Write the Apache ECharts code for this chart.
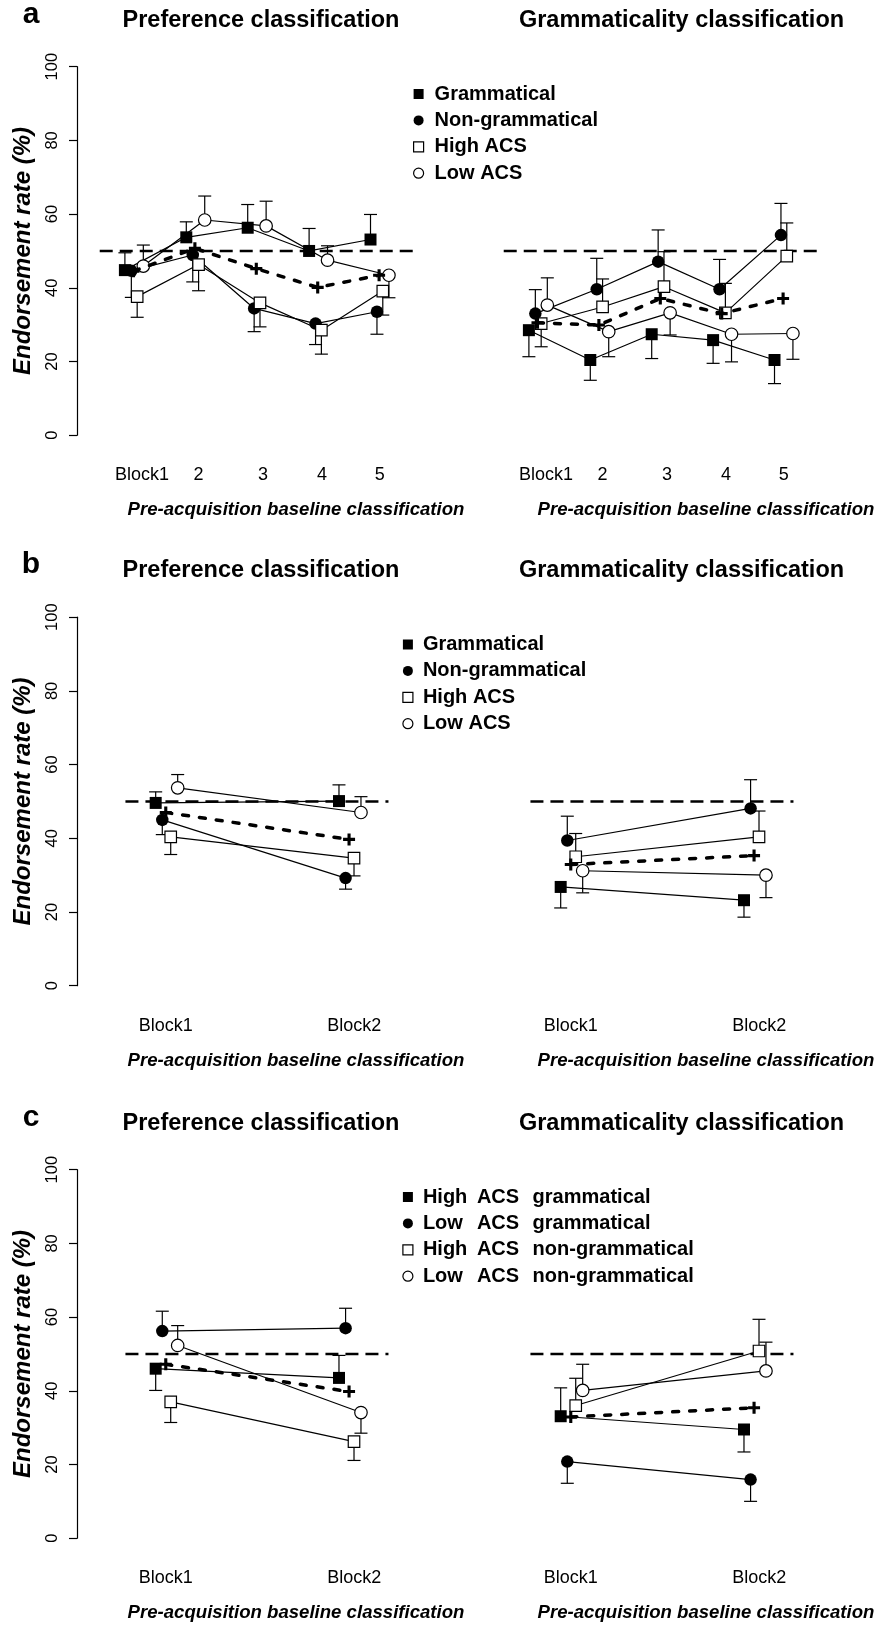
<!DOCTYPE html>
<html>
<head>
<meta charset="utf-8">
<title>Endorsement rate</title>
<script src="https://cdn.jsdelivr.net/npm/echarts@6/dist/echarts.min.js"></script>
<style>
  html, body { margin: 0; padding: 0; background: #fff; }
  #chart { width: 880px; height: 1627px; }
</style>
</head>
<body>
<div id="chart"></div>
<script>
const FONT = "'Liberation Sans', Arial, Helvetica, sans-serif"

// tick labels
const blockLabels5 = ['Block1', '2', '3', '4', '5']
const blockLabels2 = ['Block1', 'Block2']
const chance = 50

const groupsAB = ['Grammatical', 'Non-grammatical', 'High ACS', 'Low ACS']
const groupsC = ['High ACS grammatical', 'Low ACS grammatical', 'High ACS non-grammatical', 'Low ACS non-grammatical']

// panel a, preference: means and end of the (one-sided) error bar
const aPrefGram = [44.8, 53.7, 56.3, 50.0, 53.1]
const aPrefGramEnd = [49.5, 57.9, 62.6, 56.1, 59.9]
const aPrefNon = [44.6, 48.9, 34.4, 30.3, 33.5]
const aPrefNonEnd = [37.4, 41.6, 28.1, 24.6, 27.4]
const aPrefHigh = [37.6, 46.3, 35.9, 28.5, 39.1]
const aPrefHighEnd = [32.0, 39.2, 29.4, 22.0, 32.6]
const aPrefLow = [45.9, 58.4, 56.8, 47.5, 43.4]
const aPrefLowEnd = [51.6, 64.9, 63.5, 51.4, 37.3]
const aPrefMean = [44.5, 50.7, 45.2, 40.1, 43.4]

// panel a, grammaticality
const aGramGram = [28.5, 20.4, 27.4, 25.8, 20.4]
const aGramGramEnd = [21.3, 14.9, 20.8, 19.5, 14.0]
const aGramNon = [33.0, 39.6, 47.1, 39.6, 54.3]
const aGramNonEnd = [39.5, 48.0, 55.7, 47.7, 62.9]
const aGramHigh = [30.3, 34.8, 40.3, 33.2, 48.6]
const aGramHighEnd = [24.0, 42.4, 49.8, 41.2, 57.6]
const aGramLow = [35.3, 28.1, 33.2, 27.4, 27.6]
const aGramLowEnd = [42.7, 21.3, 27.2, 19.9, 20.6]
const aGramMean = [30.5, 29.9, 37.1, 33.0, 37.1]

// panel b
const bPrefGram = [49.6, 50.1]
const bPrefGramEnd = [52.6, 54.5]
const bPrefNon = [45.0, 29.2]
const bPrefNonEnd = [41.0, 26.2]
const bPrefHigh = [40.4, 34.6]
const bPrefHighEnd = [35.6, 29.8]
const bPrefLow = [53.7, 47.0]
const bPrefLowEnd = [57.3, 51.3]
const bPrefMean = [47.0, 39.7]

const bGramGram = [26.8, 23.2]
const bGramGramEnd = [21.1, 18.6]
const bGramNon = [39.4, 48.1]
const bGramNonEnd = [46.0, 55.9]
const bGramHigh = [35.0, 40.4]
const bGramHighEnd = [41.3, 47.4]
const bGramLow = [31.2, 30.0]
const bGramLowEnd = [25.2, 23.9]
const bGramMean = [32.9, 35.3]

// panel c
const cPrefHighGram = [46.0, 43.5]
const cPrefHighGramEnd = [40.1, 49.6]
const cPrefLowGram = [56.2, 57.0]
const cPrefLowGramEnd = [61.6, 62.4]
const cPrefHighNon = [37.0, 26.2]
const cPrefHighNonEnd = [31.4, 21.1]
const cPrefLowNon = [52.3, 34.1]
const cPrefLowNonEnd = [57.7, 28.5]
const cPrefMean = [47.2, 39.8]

const cGramHighGram = [33.1, 29.5]
const cGramHighGramEnd = [40.8, 23.4]
const cGramLowGram = [20.8, 15.9]
const cGramLowGramEnd = [14.9, 10.0]
const cGramHighNon = [36.0, 50.8]
const cGramHighNonEnd = [43.4, 59.4]
const cGramLowNon = [40.1, 45.4]
const cGramLowNonEnd = [47.2, 53.2]
const cGramMean = [32.9, 35.4]

// layout (not data)
const panelTop = [0, 550.5, 1103]
const plotTop = 66.7
const plotH = 368.5
const five = { width: 350, xMin: 0.22, xMax: 5.92, labelAt: [1.28, 2.2, 3.25, 4.21, 5.15], offsets: [0, 0.105, 0.2, 0.3], meanOff: 0.14, span: [0.59, 5.7] }
const two = { width: 381.3, xMin: 0.5707, xMax: 2.651, labelAt: [1.055, 2.083], offsets: [0, 0.036, 0.082, 0.12], meanOff: 0.055, span: [0.835, 2.27] }

const symbols = [
  { symbol: 'rect', size: 12, style: { color: '#000' } },
  { symbol: 'circle', size: 12.5, style: { color: '#000' } },
  { symbol: 'rect', size: 11.5, style: { color: '#fff', borderColor: '#000', borderWidth: 1.2 } },
  { symbol: 'circle', size: 12.5, style: { color: '#fff', borderColor: '#000', borderWidth: 1.2 } }
]
const plusPath = 'path://M3.7,0H6.3V3.7H10V6.3H6.3V10H3.7V6.3H0V3.7H3.7Z'

const panels = [
  { row: 0, left: 77, lay: five, labels: blockLabels5, names: groupsAB, yAxis: true,
    groups: [[aPrefGram, aPrefGramEnd], [aPrefNon, aPrefNonEnd], [aPrefHigh, aPrefHighEnd], [aPrefLow, aPrefLowEnd]], mean: aPrefMean },
  { row: 0, left: 481, lay: five, labels: blockLabels5, names: groupsAB, yAxis: false,
    groups: [[aGramGram, aGramGramEnd], [aGramNon, aGramNonEnd], [aGramHigh, aGramHighEnd], [aGramLow, aGramLowEnd]], mean: aGramMean },
  { row: 1, left: 77, lay: two, labels: blockLabels2, names: groupsAB, yAxis: true,
    groups: [[bPrefGram, bPrefGramEnd], [bPrefNon, bPrefNonEnd], [bPrefHigh, bPrefHighEnd], [bPrefLow, bPrefLowEnd]], mean: bPrefMean },
  { row: 1, left: 482, lay: two, labels: blockLabels2, names: groupsAB, yAxis: false,
    groups: [[bGramGram, bGramGramEnd], [bGramNon, bGramNonEnd], [bGramHigh, bGramHighEnd], [bGramLow, bGramLowEnd]], mean: bGramMean },
  { row: 2, left: 77, lay: two, labels: blockLabels2, names: groupsC, yAxis: true,
    groups: [[cPrefHighGram, cPrefHighGramEnd], [cPrefLowGram, cPrefLowGramEnd], [cPrefHighNon, cPrefHighNonEnd], [cPrefLowNon, cPrefLowNonEnd]], mean: cPrefMean },
  { row: 2, left: 482, lay: two, labels: blockLabels2, names: groupsC, yAxis: false,
    groups: [[cGramHighGram, cGramHighGramEnd], [cGramLowGram, cGramLowGramEnd], [cGramHighNon, cGramHighNonEnd], [cGramLowNon, cGramLowNonEnd]], mean: cGramMean }
]

function renderErr(params, api) {
  const p0 = api.coord([api.value(0), api.value(1)])
  const p1 = api.coord([api.value(0), api.value(2)])
  const st = { stroke: '#000', lineWidth: 1.2 }
  return {
    type: 'group',
    children: [
      { type: 'line', shape: { x1: p0[0], y1: p0[1], x2: p1[0], y2: p1[1] }, style: st },
      { type: 'line', shape: { x1: p1[0] - 6.5, y1: p1[1], x2: p1[0] + 6.5, y2: p1[1] }, style: st }
    ]
  }
}

const grids = []
const xAxes = []
const yAxes = []
const series = []

panels.forEach((p, gi) => {
  const lay = p.lay
  grids.push({ left: p.left, top: panelTop[p.row] + plotTop, width: lay.width, height: plotH, outerBoundsMode: 'none' })
  xAxes.push({
    type: 'value', gridIndex: gi, min: lay.xMin, max: lay.xMax,
    axisLine: { show: false }, axisTick: { show: false }, splitLine: { show: false },
    axisLabel: {
      customValues: lay.labelAt,
      margin: 31,
      color: '#000', fontFamily: FONT, fontSize: 18,
      formatter: (v) => {
        let k = 0
        lay.labelAt.forEach((t, i) => { if (Math.abs(t - v) < Math.abs(lay.labelAt[k] - v)) k = i })
        return p.labels[k]
      }
    }
  })
  yAxes.push({
    type: 'value', gridIndex: gi, min: 0, max: 100, interval: 20, show: p.yAxis,
    name: 'Endorsement rate (%)', nameLocation: 'middle', nameGap: 42, nameRotate: 90,
    nameTextStyle: { color: '#000', fontFamily: FONT, fontSize: 24, fontWeight: 'bold', fontStyle: 'italic' },
    axisLine: { show: true, lineStyle: { color: '#000', width: 1.2 } },
    axisTick: { show: true, length: 8, lineStyle: { color: '#000', width: 1.2 } },
    splitLine: { show: false },
    axisLabel: { rotate: 90, margin: 16, color: '#000', fontFamily: FONT, fontSize: 16.5, showMinLabel: true, showMaxLabel: true }
  })

  // chance level
  series.push({
    type: 'line', xAxisIndex: gi, yAxisIndex: gi, symbol: 'none', silent: true, z: 1,
    data: [[lay.span[0], chance], [lay.span[1], chance]],
    lineStyle: { color: '#000', width: 2.5, type: [13, 7] }
  })

  p.groups.forEach((g, k) => {
    const off = lay.offsets[k]
    series.push({
      type: 'custom', xAxisIndex: gi, yAxisIndex: gi, silent: true, z: 2,
      renderItem: renderErr,
      encode: { x: 0, y: [1, 2] },
      data: g[0].map((v, i) => [i + 1 + off, v, g[1][i]])
    })
  })

  p.groups.forEach((g, k) => {
    const off = lay.offsets[k]
    const s = symbols[k]
    series.push({
      name: p.names[k], type: 'line', xAxisIndex: gi, yAxisIndex: gi, z: 3,
      symbol: s.symbol, symbolSize: s.size, showAllSymbol: true,
      itemStyle: s.style,
      lineStyle: { color: '#000', width: 1.2 },
      data: g[0].map((v, i) => [i + 1 + off, v])
    })
  })

  series.push({
    type: 'line', xAxisIndex: gi, yAxisIndex: gi, z: 4,
    symbol: plusPath, symbolSize: 12,
    itemStyle: { color: '#000' },
    lineStyle: { color: '#000', width: 3.5, type: [6, 11], cap: 'round' },
    data: p.mean.map((v, i) => [i + 1 + lay.meanOff, v])
  })
})

function legendItems(names) {
  return names.map((n, k) => ({
    name: n,
    icon: k % 2 === 0 ? 'rect' : 'circle',
    itemStyle: k < 2 ? { color: '#000', borderWidth: 0 } : { color: '#fff', borderColor: '#000', borderWidth: 1.2 }
  }))
}
const legendText = { color: '#000', fontFamily: FONT, fontSize: 20, fontWeight: 'bold', lineHeight: 20 }
const richCol = { color: '#000', fontFamily: FONT, fontSize: 20, fontWeight: 'bold' }
const legends = [
  { left: 413, top: panelTop[0] + 84, textStyle: Object.assign({ padding: [0, 0, 0, 6] }, legendText), data: legendItems(groupsAB) },
  { left: 402.3, top: panelTop[1] + 84, textStyle: Object.assign({ padding: [0, 0, 0, 5] }, legendText), data: legendItems(groupsAB) },
  {
    left: 402.3, top: panelTop[2] + 84,
    textStyle: Object.assign({
      padding: [0, 0, 0, 5],
      rich: {
        w1: Object.assign({ width: 54 }, richCol),
        w2: Object.assign({ width: 55.7 }, richCol),
        w3: richCol
      }
    }, legendText),
    formatter: (name) => {
      const parts = name.split(' ')
      return '{w1|' + parts[0] + '}{w2|' + parts[1] + '}{w3|' + parts.slice(2).join(' ') + '}'
    },
    data: legendItems(groupsC)
  }
].map((l) => Object.assign({ orient: 'vertical', padding: 0, itemWidth: 10, itemHeight: 10, itemGap: 6.4, selectedMode: false }, l))

const texts = []
const panelLetters = ['a', 'b', 'c']
panelTop.forEach((t, r) => {
  texts.push({ type: 'text', x: 31, y: t + 14.5, style: { text: panelLetters[r], font: 'bold 30px ' + FONT, fill: '#000', textAlign: 'center', textVerticalAlign: 'middle' } })
  texts.push({ type: 'text', x: 261, y: t + 20.3, style: { text: 'Preference classification', font: 'bold 23.5px ' + FONT, fill: '#000', textAlign: 'center', textVerticalAlign: 'middle' } })
  texts.push({ type: 'text', x: 681.5, y: t + 20.3, style: { text: 'Grammaticality classification', font: 'bold 23.5px ' + FONT, fill: '#000', textAlign: 'center', textVerticalAlign: 'middle' } })
  const xt = t + plotTop + plotH + 74.7
  texts.push({ type: 'text', x: 296, y: xt, style: { text: 'Pre-acquisition baseline classification', font: 'italic bold 18.6px ' + FONT, fill: '#000', textAlign: 'center', textVerticalAlign: 'middle' } })
  texts.push({ type: 'text', x: 706, y: xt, style: { text: 'Pre-acquisition baseline classification', font: 'italic bold 18.6px ' + FONT, fill: '#000', textAlign: 'center', textVerticalAlign: 'middle' } })
})

function initChart() {
  const chart = echarts.init(document.getElementById('chart'), null, { renderer: 'canvas' })
  chart.setOption({
    backgroundColor: '#fff',
    animation: false,
    grid: grids,
    xAxis: xAxes,
    yAxis: yAxes,
    legend: legends,
    graphic: { elements: texts },
    series: series
  })
}
initChart()
</script>
</body>
</html>
